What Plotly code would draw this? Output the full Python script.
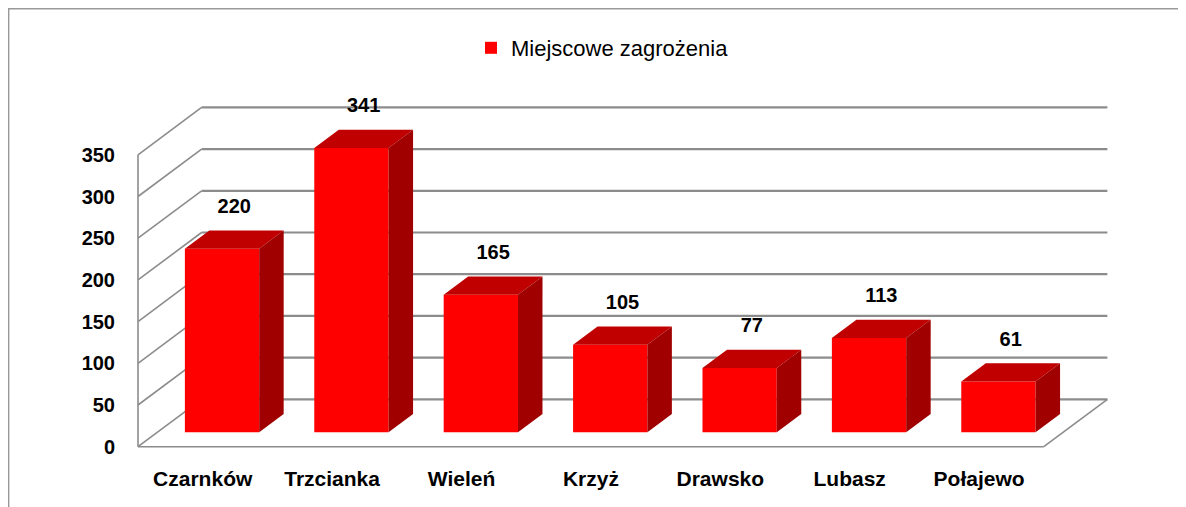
import plotly.graph_objects as go

# ---------------- data ----------------
categories = ["Czarnków", "Trzcianka", "Wieleń", "Krzyż", "Drawsko", "Lubasz", "Połajewo"]
values = [220, 341, 165, 105, 77, 113, 61]
y_ticks = [0, 50, 100, 150, 200, 250, 300, 350]
series_name = "Miejscowe zagrożenia"

# ---------------- geometry (oblique 3D projection) ----------------
W, H = 1186, 507
OFF = 8.0           # page body margin: figure pixel = page pixel - OFF
PX_CAT = 129.4      # pixels per category on the front plane
PX_VAL = 0.834      # pixels per value unit
AX_X = 138.0 - OFF  # figure pixel x of the front-left corner
AX_Y = 446.7 - OFF  # figure pixel y of the front floor edge
DEPTH_PX = (63.6, 47.4)
DX = DEPTH_PX[0] / PX_CAT   # depth offset in category units
DY = DEPTH_PX[1] / PX_VAL   # depth offset in value units
D0, D1 = 0.304, 0.689       # bar front / back depth fractions
BAR_W = 74.3 / PX_CAT

PL, PR, PT, PB = 112, 1112, 82, 452
xr = [(PL - AX_X) / PX_CAT, (PR - AX_X) / PX_CAT]
yr = [(AX_Y - PB) / PX_VAL, (AX_Y - PT) / PX_VAL]
plot_w, plot_h = PR - PL, PB - PT

def px2paper(px, py):
    return (px - PL) / plot_w, (PB - py) / plot_h

ncat = len(categories)
ymax = y_ticks[-1]
GRID = "#8c8c8c"

fig = go.Figure()

# ---- walls (shapes below the traces): back gridlines, side wall, floor ----
def wall_line(x0, y0, x1, y1, width):
    fig.add_shape(type="line", xref="x", yref="y", x0=x0, y0=y0, x1=x1, y1=y1,
                  line=dict(color=GRID, width=width), layer="below")

for t in y_ticks:
    wall_line(DX, t + DY, ncat + DX, t + DY, 2.2)   # back wall gridline
    wall_line(0, t, DX, t + DY, 1.6)                 # side wall diagonal
wall_line(0, 0, 0, ymax, 1.6)                        # front vertical edge
wall_line(0, 0, ncat, 0, 1.6)                        # floor front edge
wall_line(ncat, 0, ncat + DX, DY, 1.6)               # floor right edge

# ---- bars ----
centers = [i + 0.5 + D0 * DX for i in range(ncat)]
dd = D1 - D0
fig.add_trace(go.Bar(x=centers, y=values, base=[D0 * DY] * ncat, width=BAR_W,
                     marker=dict(color="#ff0000", line=dict(width=0)),
                     name=series_name, showlegend=True, hoverinfo="skip"))
for c, v in zip(centers, values):
    l, r = c - BAR_W / 2, c + BAR_W / 2
    top_y0, top_y1 = v + D0 * DY, v + D1 * DY
    # top face
    fig.add_trace(go.Scatter(x=[l, r, r + dd * DX, l + dd * DX, l],
                             y=[top_y0, top_y0, top_y1, top_y1, top_y0],
                             mode="lines", fill="toself", fillcolor="#c00000",
                             line=dict(width=0, color="#c00000"),
                             hoverinfo="skip", showlegend=False))
    # side face
    fig.add_trace(go.Scatter(x=[r, r, r + dd * DX, r + dd * DX, r],
                             y=[D0 * DY, top_y0, top_y1, D1 * DY, D0 * DY],
                             mode="lines", fill="toself", fillcolor="#a00000",
                             line=dict(width=0, color="#a00000"),
                             hoverinfo="skip", showlegend=False))

NUM_FONT = dict(family="Liberation Sans, Arial", size=20, color="#000000", weight="bold")

# ---- value labels ----
fig.add_trace(go.Scatter(x=[c + dd * DX / 2 for c in centers],
                         y=[v + D1 * DY + 27 for v in values],
                         mode="text", text=[str(v) for v in values],
                         textposition="middle center", textfont=NUM_FONT,
                         cliponaxis=False, hoverinfo="skip", showlegend=False))

# ---- outer border (left and top edges visible) ----
bx0, by0 = px2paper(0.7, 0.8)
bx1, by1 = px2paper(W + 5, H + 5)
fig.add_shape(type="rect", xref="paper", yref="paper", x0=bx0, y0=by1, x1=bx1, y1=by0,
              line=dict(color="#999999", width=1.4), fillcolor="rgba(0,0,0,0)", layer="below")

lx, ly = px2paper(471 - OFF, 48 - OFF)
fig.update_layout(
    width=W, height=H,
    margin=dict(l=PL, r=W - PR, t=PT, b=H - PB),
    paper_bgcolor="white", plot_bgcolor="white",
    showlegend=True,
    legend=dict(x=lx, y=ly, xanchor="left", yanchor="middle", orientation="h",
                font=dict(family="Liberation Sans, Arial", size=22, color="#000000"),
                bgcolor="rgba(0,0,0,0)"),
    xaxis=dict(range=xr, tickmode="array", tickvals=[i + 0.5 for i in range(ncat)],
               ticktext=categories, showgrid=False, zeroline=False, showline=False,
               ticks="", ticklabelstandoff=4,
               tickfont=dict(family="Liberation Sans, Arial", size=21, color="#000000", weight="bold")),
    yaxis=dict(range=yr, tickmode="array", tickvals=y_ticks, ticktext=[str(t) for t in y_ticks],
               showgrid=False, zeroline=False, showline=False, ticks="", ticklabelstandoff=4,
               tickfont=NUM_FONT),
    barmode="overlay",
)

fig.write_html("out.html")
